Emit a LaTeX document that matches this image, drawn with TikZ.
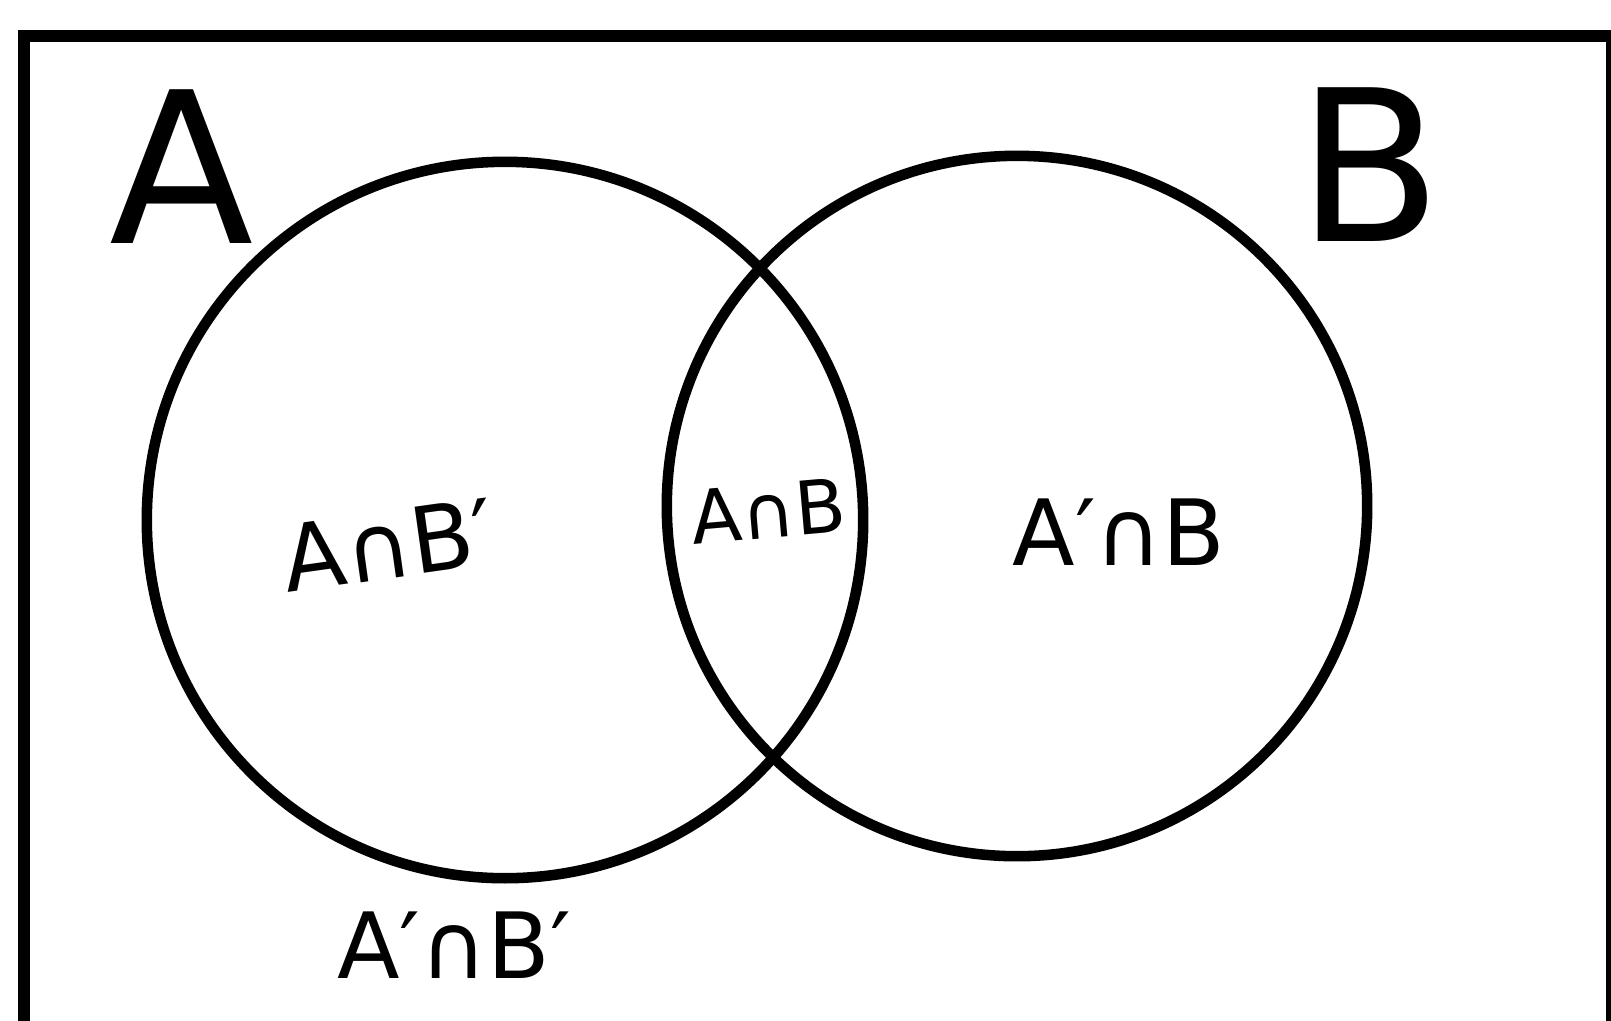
\documentclass[tikz,border=0pt]{standalone}
\usepackage{fontspec}
\setmainfont{DejaVu Sans}
\usepackage{tikz}
\usetikzlibrary{positioning}

\begin{document}
\begin{tikzpicture}[
    x=0.01cm, y=-0.01cm,
    frame/.style={draw=black, line width=3.2pt},
    setcircle/.style={circle, draw=black, line width=3pt, inner sep=0pt},
    setname/.style={font=\fontsize{60}{60}\selectfont, inner sep=0pt},
    regionlabel/.style={font=\fontsize{26}{26}\selectfont, inner sep=0pt}
]
\clip (0,0) rectangle (1611,1020);
\fill[white] (0,0) rectangle (1611,1020);

% Frame
\draw [frame] (24,1060) |- (1612,36) -- (1612,1060);

% Circles
\node (circA) [setcircle, minimum size=7.16cm] at (505,520) {};
\node (circB) [setcircle, minimum size=7.0cm] at (1017,506) {};

% Set names
\node (nameA) [setname] at (182,167) {A};
\node (nameB) [setname] at (1370,165) {B};

% Regions
\node (onlyA) [regionlabel, rotate=8] at (388,545) {A∩B′};
\node (both) [regionlabel, rotate=5, font=\fontsize{21}{21}\selectfont] at (768,511) {A∩B};
\node (onlyB) [regionlabel] at (1119,532) {A′∩B};
\node (none) [regionlabel] at (454,945) {A′∩B′};

\end{tikzpicture}
\end{document}
